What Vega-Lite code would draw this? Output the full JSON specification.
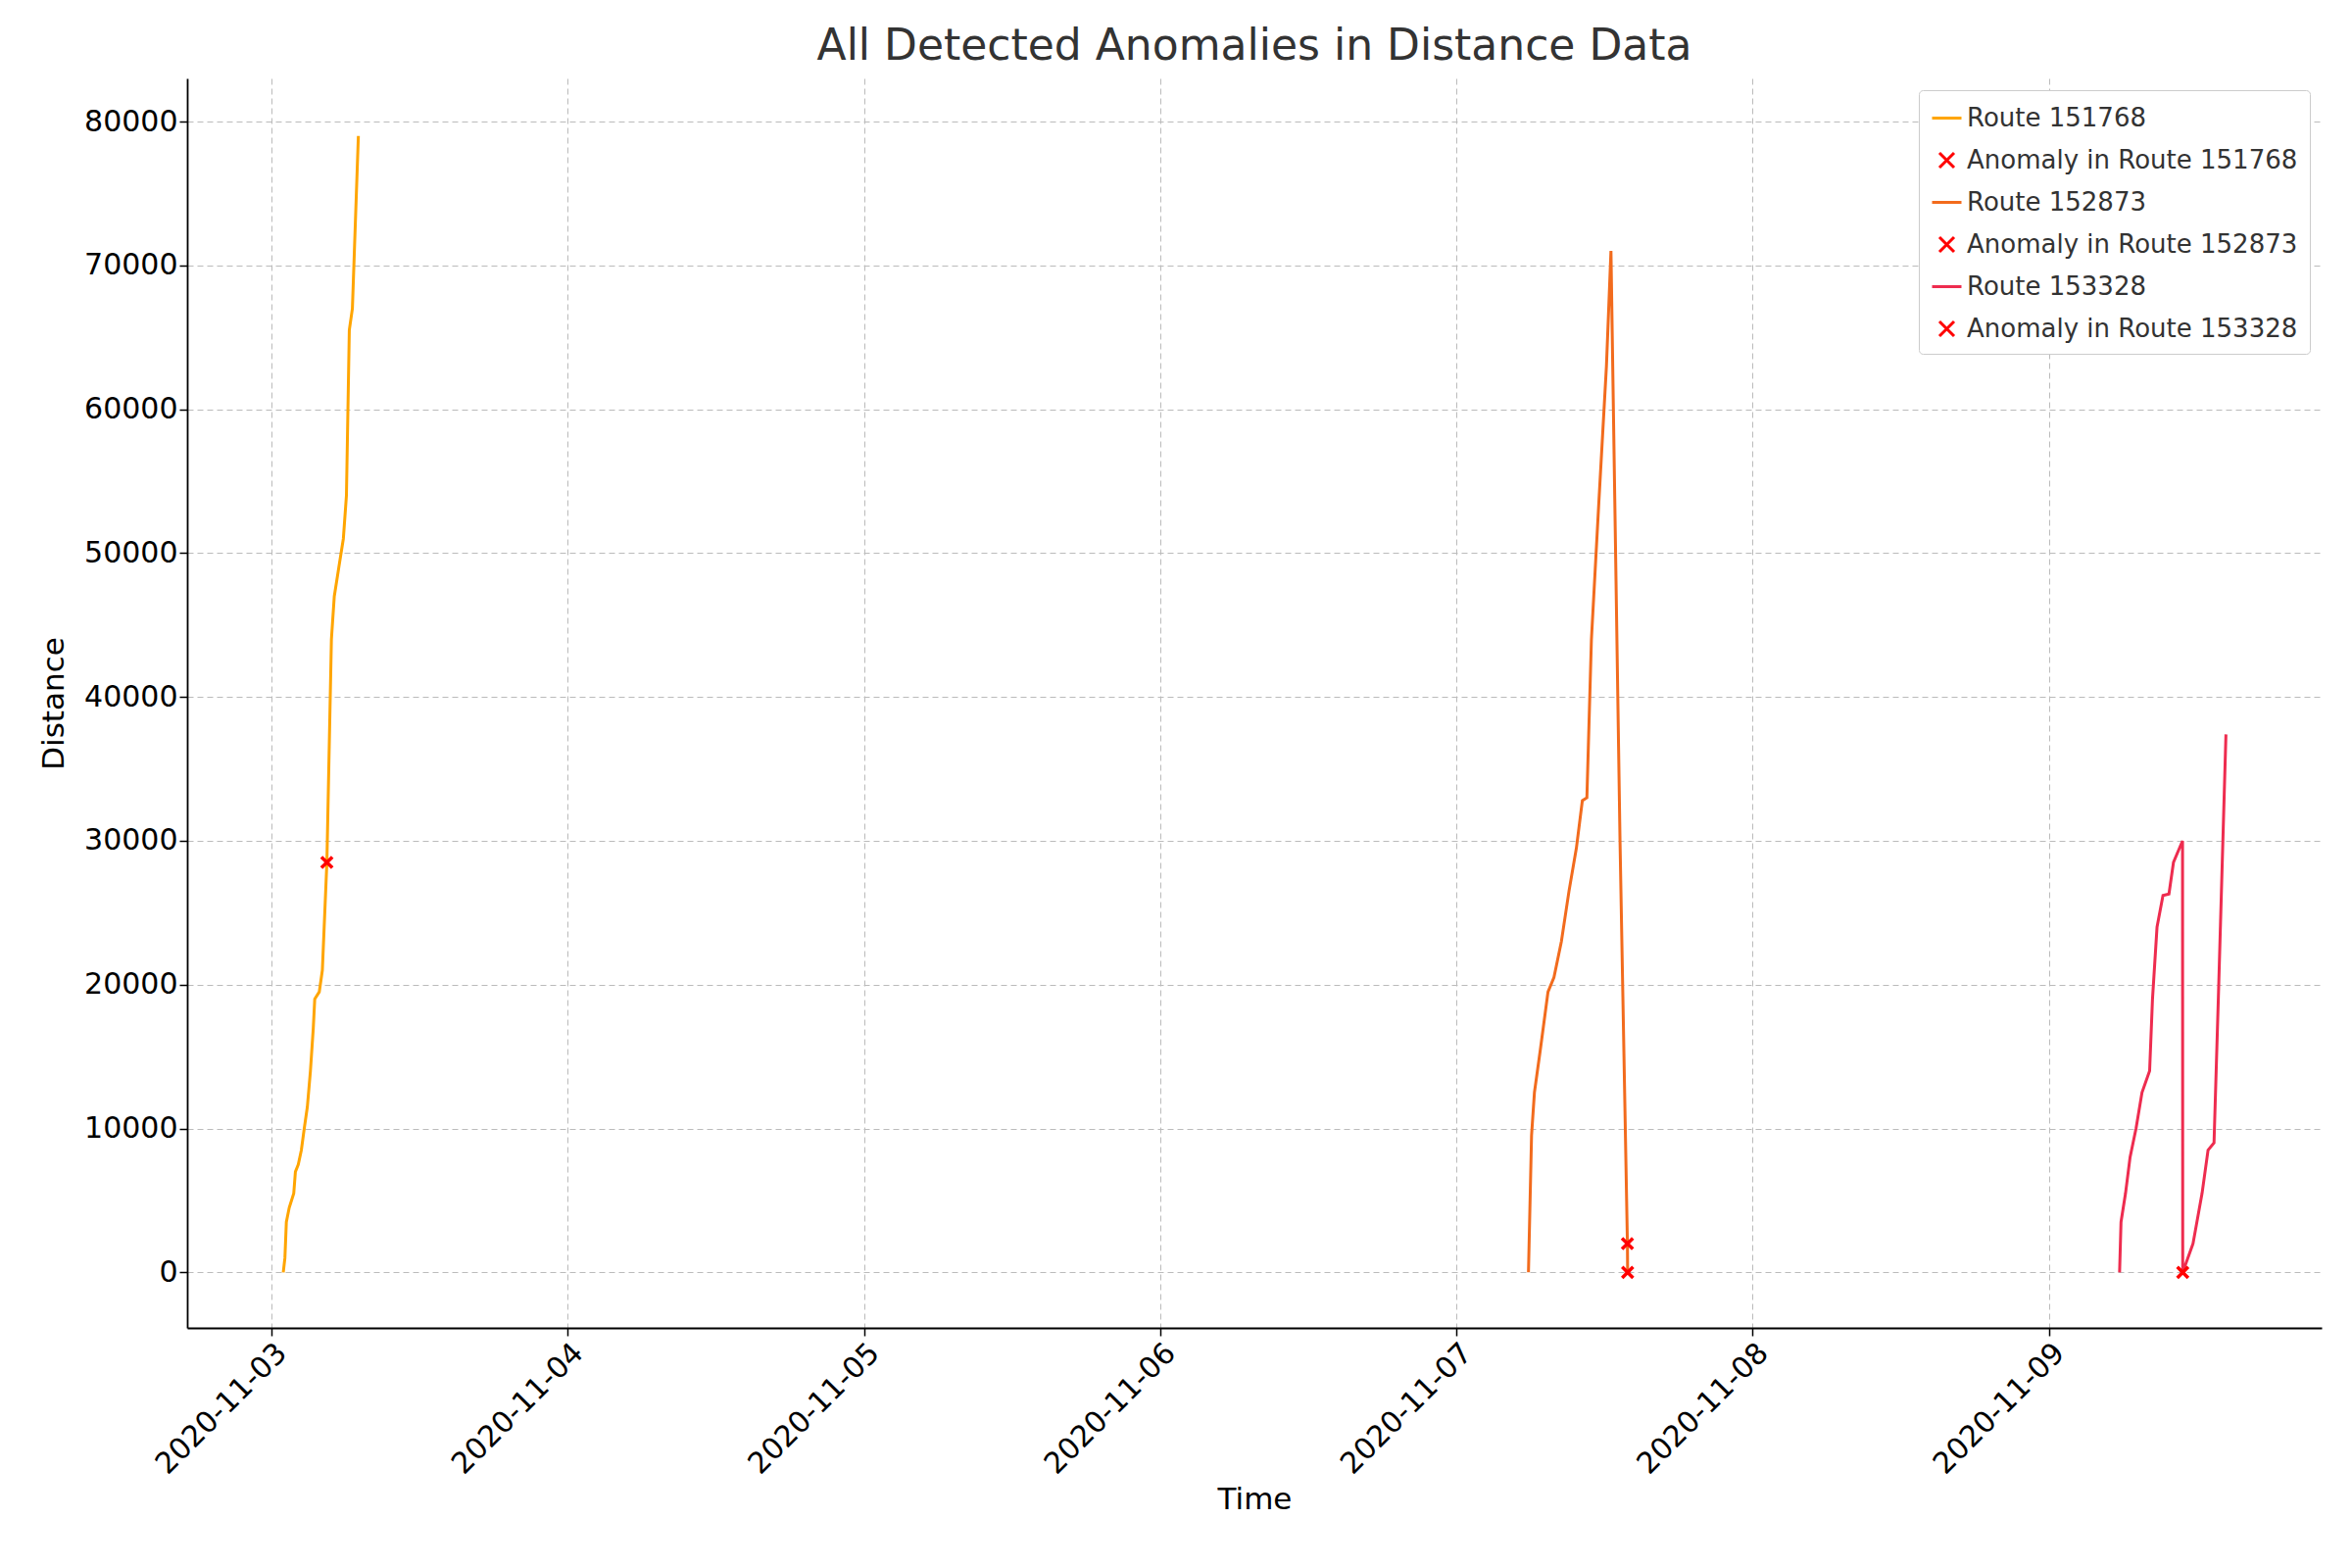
{
  "$schema": "https://vega.github.io/schema/vega-lite/v6.json",
  "width": 2178,
  "height": 1275,
  "autosize": {"type": "none"},
  "padding": {"left": 191, "top": 80, "right": 31, "bottom": 245},
  "config": {
    "font": "DejaVu Sans",
    "view": {"stroke": null},
    "axis": {"labelFontSize": 30, "titleFontSize": 31, "labelColor": "#000", "titleColor": "#000", "titleFontWeight": "normal", "domainColor": "#000", "tickColor": "#000", "tickSize": 8, "tickWidth": 1.5, "gridColor": "#bbbbbb", "gridDash": [6, 4], "domainWidth": 1.8}
  },
  "title": {"text": "All Detected Anomalies in Distance Data", "fontSize": 44, "fontWeight": "normal", "color": "#333", "offset": 10},
  "datasets": {
    "lines": [
      {"series": "Route 151768", "time": "2020-11-03T00:58", "distance": 0},
      {"series": "Route 151768", "time": "2020-11-03T01:06", "distance": 1000},
      {"series": "Route 151768", "time": "2020-11-03T01:13", "distance": 3500},
      {"series": "Route 151768", "time": "2020-11-03T01:27", "distance": 4500},
      {"series": "Route 151768", "time": "2020-11-03T01:49", "distance": 5500},
      {"series": "Route 151768", "time": "2020-11-03T01:57", "distance": 7000},
      {"series": "Route 151768", "time": "2020-11-03T02:11", "distance": 7500},
      {"series": "Route 151768", "time": "2020-11-03T02:26", "distance": 8500},
      {"series": "Route 151768", "time": "2020-11-03T02:40", "distance": 10000},
      {"series": "Route 151768", "time": "2020-11-03T02:55", "distance": 11500},
      {"series": "Route 151768", "time": "2020-11-03T03:10", "distance": 14000},
      {"series": "Route 151768", "time": "2020-11-03T03:24", "distance": 17000},
      {"series": "Route 151768", "time": "2020-11-03T03:31", "distance": 19000},
      {"series": "Route 151768", "time": "2020-11-03T03:53", "distance": 19500},
      {"series": "Route 151768", "time": "2020-11-03T04:08", "distance": 21000},
      {"series": "Route 151768", "time": "2020-11-03T04:30", "distance": 28500},
      {"series": "Route 151768", "time": "2020-11-03T04:52", "distance": 44000},
      {"series": "Route 151768", "time": "2020-11-03T05:06", "distance": 47000},
      {"series": "Route 151768", "time": "2020-11-03T05:28", "distance": 49000},
      {"series": "Route 151768", "time": "2020-11-03T05:50", "distance": 51000},
      {"series": "Route 151768", "time": "2020-11-03T06:05", "distance": 54000},
      {"series": "Route 151768", "time": "2020-11-03T06:19", "distance": 65500},
      {"series": "Route 151768", "time": "2020-11-03T06:34", "distance": 67000},
      {"series": "Route 151768", "time": "2020-11-03T07:03", "distance": 79000},
      {"series": "Route 152873", "time": "2020-11-07T05:50", "distance": 0},
      {"series": "Route 152873", "time": "2020-11-07T06:05", "distance": 9500},
      {"series": "Route 152873", "time": "2020-11-07T06:19", "distance": 12500},
      {"series": "Route 152873", "time": "2020-11-07T06:48", "distance": 15500},
      {"series": "Route 152873", "time": "2020-11-07T07:25", "distance": 19500},
      {"series": "Route 152873", "time": "2020-11-07T07:54", "distance": 20500},
      {"series": "Route 152873", "time": "2020-11-07T08:30", "distance": 23000},
      {"series": "Route 152873", "time": "2020-11-07T09:07", "distance": 26500},
      {"series": "Route 152873", "time": "2020-11-07T09:43", "distance": 29500},
      {"series": "Route 152873", "time": "2020-11-07T10:12", "distance": 32800},
      {"series": "Route 152873", "time": "2020-11-07T10:34", "distance": 33000},
      {"series": "Route 152873", "time": "2020-11-07T10:56", "distance": 44000},
      {"series": "Route 152873", "time": "2020-11-07T11:32", "distance": 53500},
      {"series": "Route 152873", "time": "2020-11-07T12:09", "distance": 63000},
      {"series": "Route 152873", "time": "2020-11-07T12:31", "distance": 71000},
      {"series": "Route 152873", "time": "2020-11-07T13:15", "distance": 30000},
      {"series": "Route 152873", "time": "2020-11-07T13:51", "distance": 2000},
      {"series": "Route 152873", "time": "2020-11-07T13:52", "distance": 0},
      {"series": "Route 153328", "time": "2020-11-09T05:43", "distance": 0},
      {"series": "Route 153328", "time": "2020-11-09T05:50", "distance": 3500},
      {"series": "Route 153328", "time": "2020-11-09T06:12", "distance": 5500},
      {"series": "Route 153328", "time": "2020-11-09T06:34", "distance": 8000},
      {"series": "Route 153328", "time": "2020-11-09T07:03", "distance": 10000},
      {"series": "Route 153328", "time": "2020-11-09T07:32", "distance": 12500},
      {"series": "Route 153328", "time": "2020-11-09T08:09", "distance": 14000},
      {"series": "Route 153328", "time": "2020-11-09T08:23", "distance": 19000},
      {"series": "Route 153328", "time": "2020-11-09T08:45", "distance": 24000},
      {"series": "Route 153328", "time": "2020-11-09T09:14", "distance": 26200},
      {"series": "Route 153328", "time": "2020-11-09T09:43", "distance": 26300},
      {"series": "Route 153328", "time": "2020-11-09T10:05", "distance": 28500},
      {"series": "Route 153328", "time": "2020-11-09T10:49", "distance": 30000},
      {"series": "Route 153328", "time": "2020-11-09T10:50", "distance": 0},
      {"series": "Route 153328", "time": "2020-11-09T11:40", "distance": 2000},
      {"series": "Route 153328", "time": "2020-11-09T12:24", "distance": 5500},
      {"series": "Route 153328", "time": "2020-11-09T12:53", "distance": 8500},
      {"series": "Route 153328", "time": "2020-11-09T13:22", "distance": 9000},
      {"series": "Route 153328", "time": "2020-11-09T13:44", "distance": 19500},
      {"series": "Route 153328", "time": "2020-11-09T14:20", "distance": 37400}
    ],
    "anomalies": [
      {"series": "Anomaly in Route 151768", "time": "2020-11-03T04:30", "distance": 28500},
      {"series": "Anomaly in Route 152873", "time": "2020-11-07T13:51", "distance": 2000},
      {"series": "Anomaly in Route 152873", "time": "2020-11-07T13:52", "distance": 0},
      {"series": "Anomaly in Route 153328", "time": "2020-11-09T10:50", "distance": 0}
    ]
  },
  "encoding": {
    "x": {"field": "time", "type": "temporal", "title": "Time",
      "scale": {"domain": ["2020-11-02T17:11", "2020-11-09T22:05"]},
      "axis": {"format": "%Y-%m-%d", "labelAngle": -45, "labelAlign": "right", "labelBaseline": "top", "tickCount": {"interval": "day", "step": 1}, "grid": true, "titlePadding": 6}},
    "y": {"field": "distance", "type": "quantitative", "title": "Distance",
      "scale": {"domain": [-3860, 83000], "nice": false, "zero": false},
      "axis": {"values": [0, 10000, 20000, 30000, 40000, 50000, 60000, 70000, 80000], "format": "d", "grid": true, "titlePadding": 14}},
    "color": {"field": "series", "type": "nominal", "title": null,
      "scale": {
        "domain": ["Route 151768", "Anomaly in Route 151768", "Route 152873", "Anomaly in Route 152873", "Route 153328", "Anomaly in Route 153328"],
        "range": ["#FFA500", "#FF0000", "#F26B1D", "#FF0000", "#EE2C4F", "#FF0000"]},
      "legend": {"orient": "top-right", "offset": 12, "labelFontSize": 26, "labelLimit": 500, "labelColor": "#333", "fillColor": "#ffffff", "strokeColor": "#cccccc", "padding": 12, "symbolSize": 900, "symbolStrokeWidth": 3, "rowPadding": 13, "cornerRadius": 4}}
  },
  "layer": [
    {"data": {"name": "lines"}, "mark": {"type": "line", "strokeWidth": 3}, "encoding": {"detail": {"field": "series"}}},
    {"data": {"name": "anomalies"}, "mark": {"type": "point", "filled": false, "size": 500, "strokeWidth": 3.5, "opacity": 1},
      "encoding": {"shape": {"field": "series", "type": "nominal", "title": null,
        "scale": {"domain": ["Route 151768", "Anomaly in Route 151768", "Route 152873", "Anomaly in Route 152873", "Route 153328", "Anomaly in Route 153328"],
          "range": ["M-1,0L1,0", "M-0.5,-0.5L0.5,0.5M-0.5,0.5L0.5,-0.5", "M-1,0L1,0", "M-0.5,-0.5L0.5,0.5M-0.5,0.5L0.5,-0.5", "M-1,0L1,0", "M-0.5,-0.5L0.5,0.5M-0.5,0.5L0.5,-0.5"]}}}}
  ]
}
